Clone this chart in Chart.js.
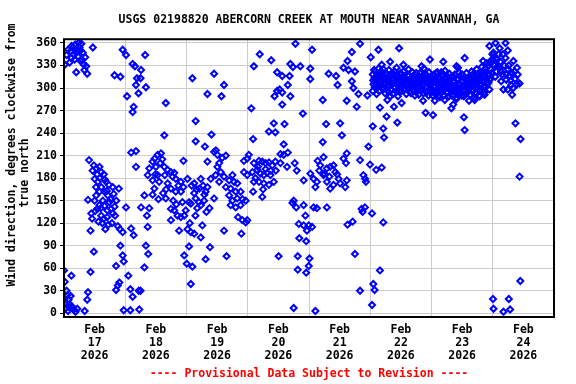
<!DOCTYPE html>
<html>
<head>
<meta charset="utf-8">
<script src="https://cdn.jsdelivr.net/npm/chart.js@4/dist/chart.umd.min.js"></script>
<style>
  html, body { margin: 0; padding: 0; background: #fff; }
</style>
</head>
<body>
<canvas id="chartCanvas" width="576" height="384"></canvas>
<script>
// wind direction readings, [hour of day, degrees], one list per day
const feb17 = [
  [0.3,331],[1.6,351],[2.6,349],[3.5,354],[4.4,358],[5.7,360],[6.8,359],[6.1,354],[4.8,347],[2.9,340],
  [4.2,338],[5.5,342],[7.4,347],[8.3,341],[6.5,336],[7.8,331],[8.7,329],[4.8,321],[9.1,319],[11.3,354],
  [3.0,356],[5.0,352],[6.5,350],[3.8,345],[1.0,344],[7.0,338],[2.2,334],[8.0,324],
  [0.0,57],[2.9,50],[0.3,42],[1.3,24],[1.8,18],[0.9,12],[2.2,12],[3.1,9],[1.6,3],[3.9,5],
  [5.2,6],[8.1,3],[9.4,28],[9.1,18],[0.5,6],[2.6,23],[1.0,30],[2.0,8],[4.5,2],[0.2,18],
  [9.8,204],[11.7,197],[12.6,193],[13.9,195],[14.6,188],[15.6,185],[12.0,179],[13.3,175],[16.5,175],[17.6,171],
  [19.1,168],[21.5,166],[14.6,168],[15.9,162],[13.9,162],[12.6,157],[17.2,157],[19.5,159],[9.4,151],[12.0,150],
  [15.2,150],[17.8,148],[13.9,144],[15.9,143],[13.0,139],[18.5,139],[10.7,133],[14.6,130],[16.9,128],[11.0,126],
  [15.6,126],[19.1,133],[20.0,130],[17.4,118],[10.4,110],[21.1,116],[23.0,108],[21.9,112],[11.7,82],[10.4,55],
  [11.2,190],[13.0,185],[14.0,180],[16.0,178],[12.5,168],[16.8,163],[18.2,152],[14.4,140],[12.2,136],[17.0,137],
  [15.0,120],[13.5,122],[16.2,112],[18.8,120],[20.5,150],[19.8,142],
  [22.1,90],[23.0,77],[23.4,69],[20.4,63],[21.1,37],[20.4,31],[21.7,41],[23.4,4],
  [23.0,351],[19.8,317],[22.1,315]
]
const feb18 = [
  [0.3,141],[2.3,113],[3.3,104],[1.2,50],[2.0,32],[2.9,22],[5.3,30],[2.0,4],[5.5,5],[0.3,344],
  [2.9,332],[3.8,329],[4.6,313],[4.2,304],[0.7,289],[3.3,275],[2.9,268],[2.3,214],[4.2,216],[4.2,195],
  [7.8,344],[6.2,324],[6.0,313],[8.1,301],[5.2,293],[15.9,280],[15.3,237],
  [10.7,202],[12.7,211],[14.0,213],[11.5,206],[9.4,193],[8.8,184],[12.0,195],[13.7,200],[15.3,195],
  [16.6,191],[17.9,188],[19.2,187],[19.8,179],[15.5,184],[12.7,184],[10.7,177],[13.3,175],[16.6,173],[17.9,166],
  [11.4,166],[7.5,157],[10.7,158],[15.9,153],[19.8,162],[21.8,162],[22.4,148],[17.9,139],[19.2,137],[20.5,130],
  [21.8,128],[23.1,130],[23.7,137],[21.8,175],[6.2,141],[9.4,140],[8.5,130],[17.9,124],[8.8,115],[21.1,110],
  [8.1,90],[9.0,79],[7.5,61],[23.1,77],[6.0,30],
  [14.5,205],[18.5,182],[20.8,170],[22.8,168],[11.8,185],[16.0,165],[18.8,150],[20.0,145],[14.8,160],[13.0,152],
  [22.8,203]
]
const feb19 = [
  [2.3,313],[10.8,319],[8.2,292],[3.6,256],[3.6,229],[7.2,222],[9.8,238],[8.2,202],[10.8,215],
  [0.4,179],[3.0,173],[1.0,148],[1.7,146],[3.6,153],[4.9,148],[5.6,144],[6.9,150],[7.5,162],[8.2,168],
  [9.5,179],[11.4,184],[12.1,195],[10.8,153],[5.6,179],[5.0,166],
  [0.4,112],[1.7,108],[3.0,106],[5.6,101],[6.2,117],[9.2,88],[7.5,72],[1.0,89],[0.1,66],[2.3,62],[1.7,39],
  [14.7,304],[13.7,289],
  [11.5,217],[12.1,211],[14.0,207],[15.4,210],[12.8,200],[13.4,188],[14.7,182],[18.0,184],[16.7,177],[18.6,175],
  [19.9,173],[12.8,175],[15.4,168],[17.3,166],[19.3,162],[21.2,162],[16.7,157],[18.0,150],[19.9,153],[21.9,152],
  [23.2,150],[17.3,144],[19.3,141],[21.2,144],[20.2,128],[21.9,124],[23.2,121],[23.8,124],[14.7,110],[21.5,106],
  [15.7,76],[22.5,203],[22.5,188],[23.8,206],[23.8,184],
  [3.0,160],[4.0,165],[2.0,170],[6.5,170],[7.0,158],[4.2,140],[7.8,135],[3.5,130],[9.0,140],[1.3,120]
]
const feb20 = [
  [4.7,345],[9.2,337],[2.4,329],[11.5,321],[13.5,316],[16.7,332],[17.7,328],[16.4,316],[15.7,304],[18.7,359],
  [11.5,296],[12.5,298],[13.5,294],[10.5,289],[16.7,289],[13.5,278],[1.4,273],[10.2,253],[8.3,242],[10.8,241],
  [14.4,252],[2.1,232],[14.1,225],[15.7,214],[12.8,212],
  [0.4,211],[2.4,200],[4.4,203],[5.7,202],[7.0,200],[8.3,201],[9.6,197],[10.8,202],[12.8,200],[14.1,211],
  [15.4,195],[18.4,200],[19.2,190],[1.8,188],[3.7,191],[5.0,186],[6.3,184],[7.6,187],[8.9,184],[10.2,175],
  [2.4,175],[4.4,175],[6.3,173],[8.3,171],[2.1,162],[5.7,155],[3.0,180],[4.0,195],[7.0,192],[9.0,190],
  [11.0,190],[6.0,165],
  [18.0,150],[19.0,141],[17.5,147],[12.1,76],[19.6,76],[19.6,58],[20.2,100],[20.0,119],[18.0,7],
  [20.6,329],[21.6,266],[21.9,177],[21.9,144],[22.6,130],[21.9,117],[23.9,117],[23.2,110],[22.9,96],
  [23.9,63],[22.9,54]
]
const feb21 = [
  [1.2,351],[0.5,326],[0.5,312],[7.7,319],[10.6,316],[11.2,304],[16.8,348],[20.0,359],[15.1,336],[13.5,327],
  [15.5,324],[18.0,322],[16.8,309],[17.4,300],[19.4,292],[14.8,283],[18.7,275],[5.4,284],[22.9,290],
  [6.7,252],[12.2,253],[12.9,237],[5.4,228],[23.3,222],
  [0.5,186],[1.8,179],[3.4,203],[5.7,208],[4.4,197],[3.1,175],[2.5,168],[5.7,184],[7.0,193],[8.3,195],
  [9.6,197],[10.3,188],[7.0,175],[8.3,166],[9.6,171],[11.6,179],[12.2,173],[13.5,206],[14.8,213],[14.5,200],
  [14.8,177],[14.2,168],[20.0,204],[23.9,198],[21.3,184],[22.0,179],[22.3,175],[6.0,186],[8.0,182],[4.0,190],
  [11.0,185],
  [1.8,141],[3.1,140],[7.0,141],[20.6,139],[21.9,141],[21.0,135],
  [0.2,73],[1.2,115],[15.1,118],[17.1,122],[18.0,79],[20.0,30],[2.5,3]
]
const feb22 = [
  [0.2,341],[1.0,296],[1.9,314],[2.5,304],[1.0,249],[0.7,133],[1.2,39],[1.7,31],[0.7,11],[2.3,191],
  [3.2,351],[11.3,353],[3.8,274],[6.7,284],[9.3,275],[6.4,262],[10.6,254],[5.1,246],[5.4,234],[21.7,267],
  [20.7,283],[4.5,194],[5.1,121],[3.8,57],
  [4.5,331],[7.8,335],[13.0,331],[23.4,338],[20.1,329],[12.3,280],
  [1.0,318],[1.3,305],[1.7,312],[2.0,322],[2.3,309],[2.7,300],[3.0,315],[3.3,326],[3.7,310],[4.0,304],
  [4.3,318],[4.7,321],[5.0,312],[5.3,299],[5.7,308],[6.0,320],[6.3,313],[6.7,302],[7.0,309],[7.3,324],
  [7.7,316],[8.0,306],[8.3,297],[8.7,311],[9.0,319],[9.3,307],[9.7,300],[10.0,313],[10.3,327],[10.7,317],
  [11.0,305],[11.3,296],[11.7,309],[12.0,318],[12.3,303],[12.7,311],[13.0,322],[13.3,308],[13.7,299],[14.0,312],
  [14.3,304],[14.7,317],[15.0,325],[15.3,310],[15.7,301],[16.0,293],[16.3,306],[16.7,315],[17.0,303],[17.3,296],
  [17.7,308],[18.0,320],[18.3,312],[18.7,300],[19.0,291],[19.3,305],[19.7,314],[20.0,309],[20.3,298],[20.7,317],
  [21.0,326],[21.3,310],[21.7,301],[22.0,307],[22.3,295],[22.7,312],[23.0,321],[23.3,304],[23.7,298],
  [1.15,310],[1.5,324],[1.85,301],[2.15,315],[2.5,292],[2.85,319],[3.15,305],[3.5,296],[3.85,321],[4.15,309],
  [4.5,300],[4.85,314],[5.15,325],[5.5,305],[5.85,293],[6.15,311],[6.5,318],[6.85,296],[7.15,314],[7.5,303],
  [7.85,289],[8.15,318],[8.5,305],[8.85,292],[9.15,312],[9.5,322],[9.85,309],[10.15,296],[10.5,306],[10.85,289],
  [11.15,314],[11.5,302],[11.85,320],[12.15,296],[12.5,307],[12.85,315],[13.15,298],[13.5,312],[13.85,305],[14.15,292],
  [14.5,309],[14.85,300],[15.15,316],[15.5,295],[15.85,310],[16.15,302],[16.5,321],[16.85,297],[17.15,311],[17.5,290],
  [17.85,314],[18.15,304],[18.5,296],[18.85,312],[19.15,300],[19.5,320],[19.85,297],[20.15,312],[20.5,305],[20.85,293],
  [21.15,315],[21.5,296],[21.85,318],[22.15,302],[22.5,311],[22.85,290],[23.15,313],[23.5,308],[23.85,294]
]
const feb23 = [
  [0.6,264],[1.3,283],[5.2,284],[7.8,273],[4.6,335],[10.4,327],[13.0,340],[12.7,261],[13.0,244],
  [9.8,329],[11.0,296],[9.8,287],[8.5,278],[16.3,309],[14.3,298],[16.9,284],[18.9,289],[20.8,291],[20.2,336],
  [22.7,356],[23.8,336],
  [0.0,305],[0.3,296],[0.7,312],[1.0,318],[1.3,303],[1.7,292],[2.0,309],[2.3,321],[2.7,314],[3.0,300],
  [3.3,288],[3.7,306],[4.0,317],[4.3,310],[4.7,298],[5.0,304],[5.3,323],[5.7,312],[6.0,301],[6.3,294],
  [6.7,308],[7.0,319],[7.3,306],[7.7,297],[8.0,290],[8.3,303],[8.7,315],[9.0,309],[9.3,296],[9.7,285],
  [10.0,300],[10.3,312],[10.7,321],[11.0,305],[11.3,293],[11.7,309],[12.0,318],[12.3,302],[12.7,289],[13.0,297],
  [13.3,311],[13.7,320],[14.0,306],[14.3,295],[14.7,283],[15.0,300],[15.3,313],[15.7,322],[16.0,308],[16.3,296],
  [16.7,287],[17.0,303],[17.3,316],[17.7,325],[18.0,311],[18.3,299],[18.7,290],[19.0,305],[19.3,318],[19.7,328],
  [20.0,314],[20.3,302],[20.7,294],[21.0,309],[21.3,321],[21.7,333],[22.0,318],[22.3,307],[22.7,298],[23.0,312],
  [23.3,325],[23.7,338],
  [0.15,314],[0.5,290],[0.85,302],[1.15,296],[1.5,311],[1.85,320],[2.15,297],[2.5,305],[2.85,290],[3.15,312],
  [3.5,298],[3.85,321],[4.15,295],[4.5,306],[4.85,290],[5.15,313],[5.5,300],[5.85,294],[6.15,316],[6.5,301],
  [6.85,289],[7.15,311],[7.5,298],[7.85,315],[8.15,296],[8.5,309],[8.85,300],[9.15,318],[9.5,304],[9.85,293],
  [10.15,311],[10.5,297],[10.85,306],[11.15,316],[11.5,300],[11.85,290],[12.15,309],[12.5,296],[12.85,314],[13.15,304],
  [13.5,292],[13.85,301],[14.15,313],[14.5,299],[14.85,309],[15.15,291],[15.5,305],[15.85,296],[16.15,318],[16.5,303],
  [16.85,312],[17.15,294],[17.5,306],[17.85,300],[18.15,319],[18.5,309],[18.85,297],[19.15,312],[19.5,304],[19.85,321],
  [20.15,308],[20.5,316],[20.85,302],[21.15,326],[21.5,312],[21.85,305],[22.15,330],[22.5,318],[22.85,311],[23.15,334],
  [23.5,320],[23.85,345]
]
const feb24 = [
  [1.1,360],[5.0,360],[2.7,353],[0.3,347],[1.4,340],[5.9,350],[4.0,345],[2.0,329],[3.3,322],[8.1,336],
  [9.5,327],[5.3,318],[6.6,316],[9.8,318],[10.5,306],[7.2,304],[5.3,311],[3.3,309],[4.2,298],[5.9,298],
  [7.6,291],[1.4,322],[8.5,322],
  [8.9,253],[10.9,232],[10.5,182],[10.8,43],[0.1,19],[0.3,6],[4.2,2],[6.3,19],[6.8,5],
  [0.7,330],[1.0,315],[1.7,338],[2.3,345],[2.7,327],[3.0,335],[3.7,318],[4.5,330],[5.0,340],[6.0,325],
  [6.3,330],[7.0,310],[7.5,320],[8.0,300],[8.7,312],[9.5,305]
]

const dayLabels = ['17', '18', '19', '20', '21', '22', '23', '24']
const monthLabel = 'Feb'
const yearLabel = '2026'
const yTickValues = [0, 30, 60, 90, 120, 150, 180, 210, 240, 270, 300, 330, 360]
// hours from Feb 17 00:00, every 12 h: midnight gets a grid line, noon gets the date
const xTickValues = [0, 12, 24, 36, 48, 60, 72, 84, 96, 108, 120, 132, 144, 156, 168, 180, 192]

const titleText = 'USGS 02198820 ABERCORN CREEK AT MOUTH NEAR SAVANNAH, GA'
const yTitle = ['Wind direction, degrees clockwise from', 'true north']
const footText = '---- Provisional Data Subject to Revision ----'

const mono = "'DejaVu Sans Mono', 'Liberation Mono', monospace"
const font = { family: mono, size: 11.5, weight: 'bold', lineHeight: 1.15 }

const days = [feb17, feb18, feb19, feb20, feb21, feb22, feb23, feb24]
const points = []
days.forEach((list, d) => {
  list.forEach(r => points.push({ x: d * 24 + r[0], y: r[1] }))
})

// black box round the plot area, plus the rotated y title
const frame = {
  id: 'frame',
  afterDatasetsDraw(chart) {
    const { ctx, chartArea: a } = chart
    ctx.save()
    ctx.strokeStyle = '#000'
    ctx.lineWidth = 2
    ctx.strokeRect(a.left, a.top, a.right - a.left, a.bottom - a.top)
    ctx.restore()
  },
  afterDraw(chart) {
    const ctx = chart.ctx
    ctx.save()
    ctx.fillStyle = '#000'
    ctx.font = 'bold 11.5px ' + mono
    ctx.textAlign = 'center'
    ctx.textBaseline = 'middle'
    ctx.translate(12, 155)
    ctx.rotate(-Math.PI / 2)
    ctx.fillText(yTitle[0], 0, 0)
    ctx.rotate(Math.PI / 2)
    ctx.translate(13, 18)
    ctx.rotate(-Math.PI / 2)
    ctx.fillText(yTitle[1], 0, 0)
    ctx.restore()
  }
}

new Chart(document.getElementById('chartCanvas'), {
  type: 'scatter',
  data: {
    datasets: [{
      data: points,
      showLine: false,
      pointStyle: 'rectRot',
      pointRadius: 3,
      pointBorderWidth: 2,
      pointBorderColor: '#0000ff',
      pointBackgroundColor: 'rgba(0,0,0,0)'
    }]
  },
  plugins: [frame],
  options: {
    responsive: false,
    animation: false,
    devicePixelRatio: 1,
    layout: { padding: { left: 0, right: 22, top: 0, bottom: 0 } },
    plugins: {
      legend: { display: false },
      tooltip: { enabled: false },
      title: {
        display: true,
        text: titleText,
        fullSize: false,
        color: '#000',
        font: font,
        padding: { top: 13, bottom: 13 }
      }
    },
    scales: {
      x: {
        type: 'linear',
        min: 0,
        max: 192,
        afterBuildTicks: s => { s.ticks = xTickValues.map(v => ({ value: v })) },
        afterFit: s => { s.height = 67 },
        border: { display: false },
        grid: {
          color: c => (c.tick && c.tick.value % 24 === 0) ? '#cccccc' : 'rgba(0,0,0,0)',
          drawTicks: false
        },
        ticks: {
          autoSkip: false,
          maxRotation: 0,
          padding: 6,
          color: '#000',
          font: font,
          callback: v => (v % 24 === 12) ? [monthLabel, dayLabels[(v - 12) / 24], yearLabel] : ''
        },
        title: {
          display: true,
          text: footText,
          color: '#ff0000',
          font: font,
          padding: { top: 0, bottom: 3 }
        }
      },
      y: {
        min: -5,
        max: 365,
        afterBuildTicks: s => { s.ticks = yTickValues.map(v => ({ value: v })) },
        afterFit: s => { s.width = 64 },
        border: { display: false },
        grid: { color: '#cccccc', tickColor: '#000', tickLength: 4 },
        ticks: { padding: 3, color: '#000', font: font },
        title: { display: false }
      }
    }
  }
})
</script>
</body>
</html>
